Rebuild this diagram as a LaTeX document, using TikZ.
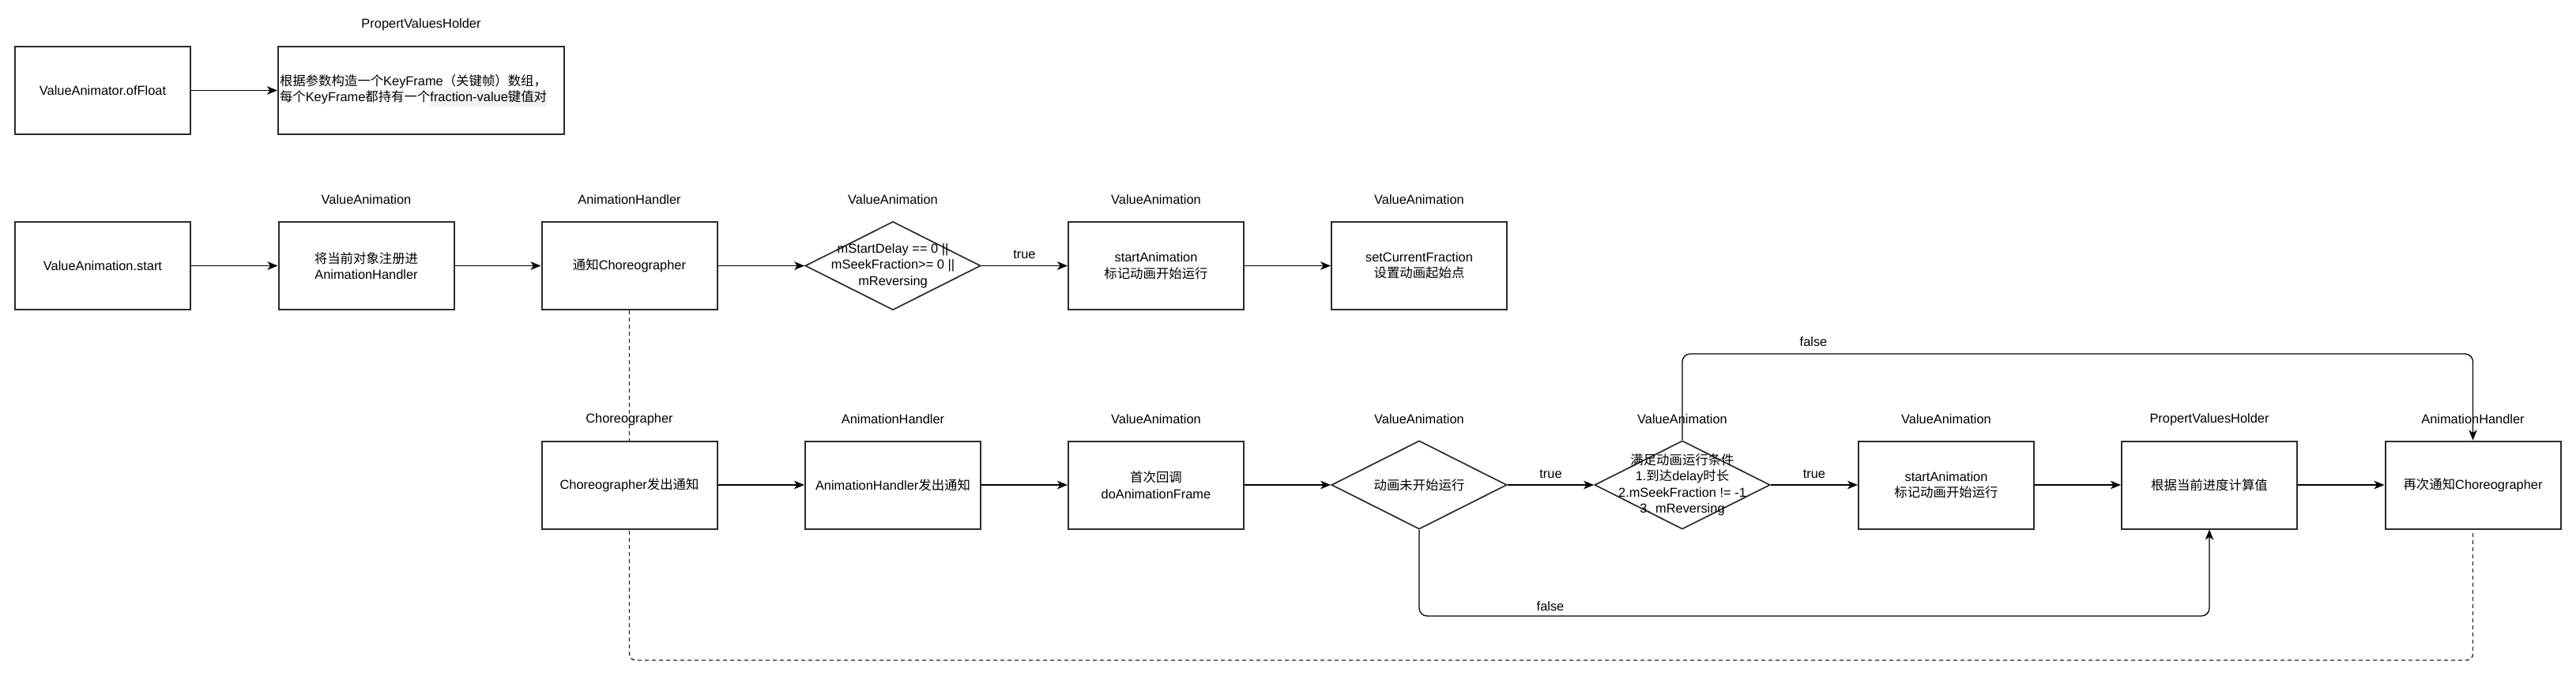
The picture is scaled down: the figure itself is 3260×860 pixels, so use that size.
\documentclass[tikz,border=0pt]{standalone}
\usepackage{fontspec}
\setmainfont{Liberation Sans}
\newfontfamily\cjkfont{Noto Sans CJK SC}
\newcommand\zh[1]{{\cjkfont #1}}
\usetikzlibrary{shapes.geometric,arrows.meta,backgrounds}
\setlength\fboxsep{0pt}
\definecolor{edgegray}{HTML}{2B2B2B}
\begin{document}
\begin{tikzpicture}[x=1pt,y=-1pt,
  every node/.style={font=\fontsize{16.4pt}{20.5pt}\selectfont, text=black},
  box/.style={draw=edgegray, fill=white, line width=2pt, minimum width=222pt, minimum height=111pt, align=center, inner sep=2pt},
  dia/.style={draw=edgegray, fill=white, diamond, line width=1.7pt, minimum width=222pt, minimum height=112pt, inner sep=0pt},
  arr/.style={draw=black, line width=1.3pt, -{Stealth[length=13pt,width=10.5pt,inset=3.5pt]}},
  dashline/.style={draw=edgegray, line width=1.4pt, dash pattern=on 5pt off 4pt, rounded corners=8pt},
  ttl/.style={inner sep=0pt},
  elabel/.style={inner sep=0pt}
]
\useasboundingbox (0,0) rectangle (3260,860);

% ---------- row 1 ----------
\node[box] (a) at (130,114.5) {ValueAnimator.ofFloat};
\node[box, minimum width=362pt, text width=358pt, align=left] (b) at (533,114.5)
  {\zh{根据参数构造一个}KeyFrame\zh{（关键帧）数组，}\\\zh{每个}KeyFrame\zh{都持有一个}\colorbox{black!5}{\strut fraction-value\zh{键值对}}};
\node[ttl] (tb) at (533,31) {PropertValuesHolder};

% ---------- row 2 ----------
\node[box] (s1) at (130,336.5) {ValueAnimation.start};
\node[box] (s2) at (463.5,336.5) {\zh{将当前对象注册进}\\AnimationHandler};
\node[box] (s3) at (796.5,336.5) {\zh{通知}Choreographer};
\node[dia] (d1) at (1130,336.5) {};
\node[align=center, inner sep=0pt] (d1t) at (d1.center) {mStartDelay == 0 ||\\mSeekFraction>= 0 ||\\mReversing};
\node[box] (s4) at (1463,336.5) {startAnimation\\\zh{标记动画开始运行}};
\node[box] (s5) at (1796,336.5) {setCurrentFraction\\\zh{设置动画起始点}};

\node[ttl] (ts2) at (463.5,253) {ValueAnimation};
\node[ttl] (ts3) at (796.5,253) {AnimationHandler};
\node[ttl] (td1) at (1130,253) {ValueAnimation};
\node[ttl] (ts4) at (1463,253) {ValueAnimation};
\node[ttl] (ts5) at (1796,253) {ValueAnimation};

% ---------- row 3 ----------
\node[box] (c1) at (796.5,614) {Choreographer\zh{发出通知}};
\node[box] (c2) at (1130,614) {AnimationHandler\zh{发出通知}};
\node[box] (c3) at (1463,614) {\zh{首次回调}\\doAnimationFrame};
\node[dia] (d2) at (1796,614) {};
\node[inner sep=0pt] (d2t) at (d2.center) {\zh{动画未开始运行}};
\node[dia] (d3) at (2129,614) {};
\node[align=center, inner sep=0pt] (d3t) at (d3.center) {\zh{满足动画运行条件}\\1.\zh{到达}delay\zh{时长}\\2.mSeekFraction != -1\\3. mReversing};
\node[box] (s6) at (2463,614) {startAnimation\\\zh{标记动画开始运行}};
\node[box] (p) at (2796,614) {\zh{根据当前进度计算值}};
\node[box] (h) at (3129.5,614) {\zh{再次通知}Choreographer};

\node[ttl] (tc1) at (796.5,531) {Choreographer};
\node[ttl] (tc2) at (1130,531) {AnimationHandler};
\node[ttl] (tc3) at (1463,531) {ValueAnimation};
\node[ttl] (td2) at (1796,531) {ValueAnimation};
\node[ttl] (td3) at (2129,531) {ValueAnimation};
\node[ttl] (ts6) at (2463,531) {ValueAnimation};
\node[ttl] (tp) at (2796,531) {PropertValuesHolder};
\node[ttl] (th) at (3129.5,531) {AnimationHandler};

\coordinate (ft) at (0,448);
\coordinate (fb) at (0,780);
\coordinate (dl) at (0,836);

% ---------- connectors ----------
\draw[arr] (a) -- (b);
\draw[arr] (s1) -- (s2);
\draw[arr] (s2) -- (s3);
\draw[arr] (s3) -- (d1);
\draw[arr] (d1) -- node[elabel, midway, yshift=14pt] (l1) {true} (s4);
\draw[arr] (s4) -- (s5);

\draw[arr] (c1) -- (c2);
\draw[arr] (c2) -- (c3);
\draw[arr] (c3) -- (d2);
\draw[arr] (d2) -- node[elabel, midway, yshift=14pt] (l2) {true} (d3);
\draw[arr] (d3) -- node[elabel, midway, yshift=14pt] (l3) {true} (s6);
\draw[arr] (s6) -- (p);
\draw[arr] (p) -- (h);

\draw[arr, rounded corners=10pt] (d3.north) -- (d3.north |- ft) -| (h.north);
\node[elabel] (l4) at (2295,433) {false};
\draw[arr, rounded corners=10pt] (d2.south) -- (d2.south |- fb) -| (p.south);
\node[elabel] (l5) at (1962,768) {false};

\begin{scope}[on background layer]
  \fill[white] (0,0) rectangle (3260,860);
  \draw[dashline] (s3.south) -- (s3.south |- dl) -| (h.south);
\end{scope}
\end{tikzpicture}
\end{document}
